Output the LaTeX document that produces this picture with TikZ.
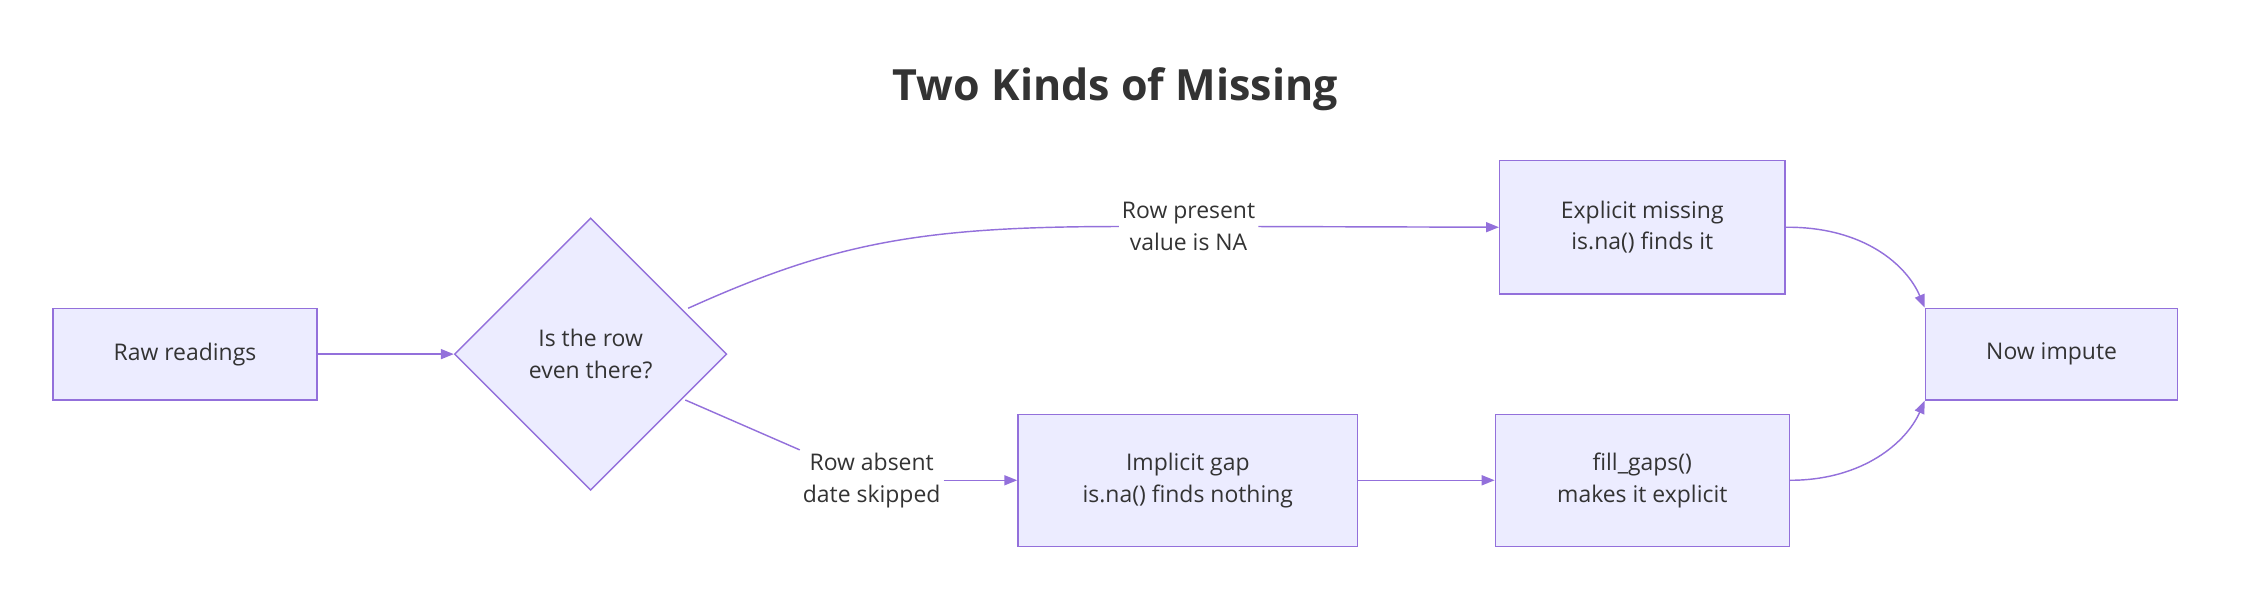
\documentclass[tikz,border=0pt]{standalone}
\usepackage{fontspec}
\setmainfont{Open Sans}
\usetikzlibrary{shapes.geometric,arrows.meta}
\definecolor{nfill}{HTML}{ECECFF}
\definecolor{nline}{HTML}{9370DB}
\definecolor{ntext}{HTML}{333333}
\begin{document}
\begin{tikzpicture}[x=1pt,y=-1pt,
  box/.style={draw=nline,fill=nfill,line width=1pt,text=ntext,align=center,font=\fontsize{16}{22}\selectfont,inner sep=0pt},
  lbl/.style={fill=white,text=ntext,align=center,font=\fontsize{16}{22}\selectfont,inner sep=2pt},
  edge/.style={draw=nline,line width=1pt,-{Triangle[length=9pt,width=7pt]}},
  plain/.style={draw=nline,line width=1pt}]
\useasboundingbox (0,0) rectangle (1568,423);
\node[text=ntext,font=\bfseries\fontsize{30}{36}\selectfont] (title) at (778,62) {Two Kinds of Missing};
\node[box,minimum width=184pt,minimum height=64pt] (raw) at (129,247) {Raw readings};
\node[box,diamond,aspect=1,minimum width=190pt,minimum height=190pt] (dec) at (412,247) {Is the row\\even there?};
\node[box,minimum width=199pt,minimum height=93pt] (exp) at (1145.5,158.5) {Explicit missing\\is.na() finds it};
\node[box,minimum width=237pt,minimum height=92pt] (imp) at (828.5,335) {Implicit gap\\is.na() finds nothing};
\node[box,minimum width=205pt,minimum height=92pt] (fill) at (1145.5,335) {fill\_gaps()\\makes it explicit};
\node[box,minimum width=176pt,minimum height=64pt] (now) at (1431,247) {Now impute};
\node[lbl] (l1) at (829,158) {Row present\\value is NA};
\node[lbl] (l2) at (608,335) {Row absent\\date skipped};
\coordinate (d1) at (480,215);
\coordinate (d2) at (478,279);
\draw[edge] (raw.east) -- (dec.west);
\draw[plain] (d1) .. controls (580,170) and (640,158) .. (l1.west);
\draw[edge] (l1.east) -- (exp.west);
\draw[plain] (d2) -- (l2.north west);
\draw[edge] (l2.east) -- (imp.west);
\draw[edge] (imp.east) -- (fill.west);
\draw[edge] (exp.east) .. controls (1300,158) and (1330,185) .. (now.north west);
\draw[edge] (fill.east) .. controls (1300,335) and (1330,308) .. (now.south west);
\end{tikzpicture}
\end{document}
